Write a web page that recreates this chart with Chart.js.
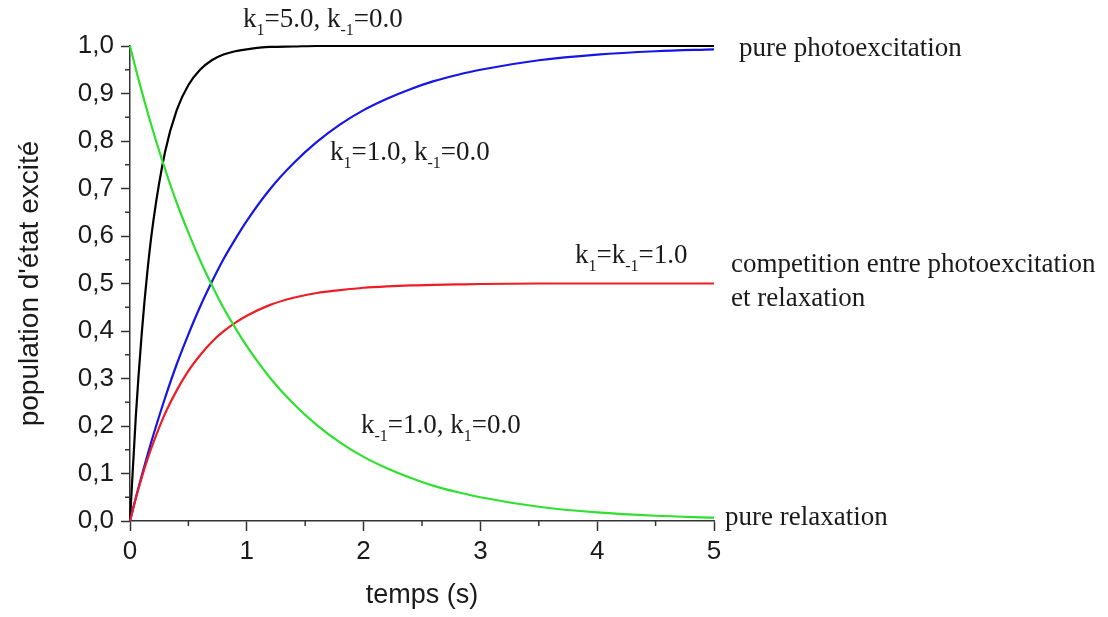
<head>
    <title>Population d'état excité</title>
    <script src="https://cdn.jsdelivr.net/npm/chart.js"></script>
</head>
<body>
    <canvas id="chart" width="1108" height="617"></canvas>

    <script>
      // temps (s)
      const temps = [0, 0.05, 0.1, 0.15, 0.2, 0.3, 0.4, 0.5, 0.6, 0.7, 0.8, 0.9, 1.0,
                     1.2, 1.4, 1.6, 1.8, 2.0, 2.2, 2.4, 2.6, 2.8, 3.0, 3.5, 4.0, 4.5, 5.0];

      // k1=5.0, k-1=0.0
      const noir = [0, 0.221, 0.393, 0.528, 0.632, 0.777, 0.865, 0.918, 0.950, 0.970, 0.982, 0.989, 0.993,
                    0.998, 0.999, 1, 1, 1, 1, 1, 1, 1, 1, 1, 1, 1, 1];
      // k1=1.0, k-1=0.0
      const bleu = [0, 0.049, 0.095, 0.139, 0.181, 0.259, 0.330, 0.393, 0.451, 0.503, 0.551, 0.593, 0.632,
                    0.699, 0.753, 0.798, 0.835, 0.865, 0.889, 0.909, 0.926, 0.939, 0.950, 0.970, 0.982, 0.989, 0.993];
      // k1=k-1=1.0
      const rouge = [0, 0.048, 0.091, 0.130, 0.165, 0.226, 0.275, 0.316, 0.349, 0.377, 0.399, 0.417, 0.432,
                     0.455, 0.470, 0.480, 0.486, 0.491, 0.494, 0.496, 0.497, 0.498, 0.499, 0.5, 0.5, 0.5, 0.5];
      // k-1=1.0, k1=0.0
      const vert = [1, 0.951, 0.905, 0.861, 0.819, 0.741, 0.670, 0.607, 0.549, 0.497, 0.449, 0.407, 0.368,
                    0.301, 0.247, 0.202, 0.165, 0.135, 0.111, 0.091, 0.074, 0.061, 0.050, 0.030, 0.018, 0.011, 0.007];

      const xMinor = [0.5, 1.5, 2.5, 3.5, 4.5];
      const yMinor = [0.05, 0.15, 0.25, 0.35, 0.45, 0.55, 0.65, 0.75, 0.85, 0.95];

      const pts = arr => arr.map((v, i) => ({ x: temps[i], y: v }));

      // annotations: [x, y, morceaux de texte], 's' = indice
      const SERIF = '"Liberation Serif", "Times New Roman", serif';
      const SANS = '"Liberation Sans", Arial, sans-serif';
      const annotations = [
        [243, 27, [['k'], ['1', 's'], ['=5.0, k'], ['-1', 's'], ['=0.0']]],
        [330, 160, [['k'], ['1', 's'], ['=1.0, k'], ['-1', 's'], ['=0.0']]],
        [575, 263, [['k'], ['1', 's'], ['=k'], ['-1', 's'], ['=1.0']]],
        [361, 433, [['k'], ['-1', 's'], ['=1.0, k'], ['1', 's'], ['=0.0']]],
        [739, 56, [['pure photoexcitation']]],
        [731, 272, [['competition entre photoexcitation']]],
        [731, 306, [['et relaxation']]],
        [725, 525, [['pure relaxation']]]
      ];

      const extras = {
        id: 'extras',
        afterDraw(chart) {
          const ctx = chart.ctx;
          const xs = chart.scales.x, ys = chart.scales.y;
          ctx.save();
          // petites graduations
          ctx.strokeStyle = '#333';
          ctx.lineWidth = 1.5;
          ctx.beginPath();
          xMinor.forEach(v => {
            const px = xs.getPixelForValue(v);
            ctx.moveTo(px, ys.bottom); ctx.lineTo(px, ys.bottom + 5);
          });
          yMinor.forEach(v => {
            const py = ys.getPixelForValue(v);
            ctx.moveTo(xs.left, py); ctx.lineTo(xs.left - 5, py);
          });
          ctx.stroke();

          // textes
          ctx.fillStyle = '#1a1a1a';
          ctx.textBaseline = 'alphabetic';
          annotations.forEach(([x, y, parts]) => {
            let cx = x;
            parts.forEach(([t, mode]) => {
              if (mode === 's') {
                ctx.font = '16px ' + SERIF;
                ctx.fillText(t, cx, y + 8);
              } else {
                ctx.font = '27px ' + SERIF;
                ctx.fillText(t, cx, y);
              }
              cx += ctx.measureText(t).width;
            });
          });
          ctx.restore();
        }
      };

      const ctx = document.getElementById('chart').getContext('2d');
      const line = (data, color) => ({
        data: pts(data), borderColor: color, borderWidth: 2.2, pointRadius: 0,
        cubicInterpolationMode: 'monotone', clip: false, fill: false
      });

      const chart = new Chart(ctx, {
        type: 'line',
        data: {
          datasets: [
            line(vert, '#2fe02f'),
            line(rouge, '#ee1c24'),
            line(bleu, '#1515e8'),
            line(noir, '#000000')
          ]
        },
        options: {
          responsive: false,
          animation: false,
          layout: { padding: { top: 46, right: 394, bottom: 0, left: 0 } },
          plugins: { legend: { display: false }, tooltip: { enabled: false } },
          scales: {
            x: {
              type: 'linear', min: 0, max: 5,
              afterFit: s => { s.height = 96; },
              border: { color: '#333', width: 1.5 },
              grid: { drawOnChartArea: false, tickLength: 10, tickColor: '#333', tickWidth: 1.5 },
              ticks: { stepSize: 1, padding: 5, color: '#1a1a1a', font: { family: SANS, size: 26 } },
              title: { display: true, text: 'temps (s)', color: '#1a1a1a', padding: { bottom: 5 },
                       font: { family: SANS, size: 27 } }
            },
            y: {
              min: 0, max: 1,
              afterFit: s => { s.width = 130; },
              border: { color: '#333', width: 1.5 },
              grid: { drawOnChartArea: false, tickLength: 9, tickColor: '#333', tickWidth: 1.5 },
              ticks: { stepSize: 0.1, padding: 7, color: '#1a1a1a', autoSkip: false,
                       callback: v => v.toFixed(1).replace('.', ','),
                       font: { family: SANS, size: 26 } },
              title: { display: true, text: "population d'état excité", color: '#1a1a1a', padding: { top: 13 },
                       font: { family: SANS, size: 28 } }
            }
          }
        },
        plugins: [extras]
      });
    </script>

    <style>
      body { margin: 0; background: #ffffff; }
      canvas { display: block; }
    </style>
</body>
